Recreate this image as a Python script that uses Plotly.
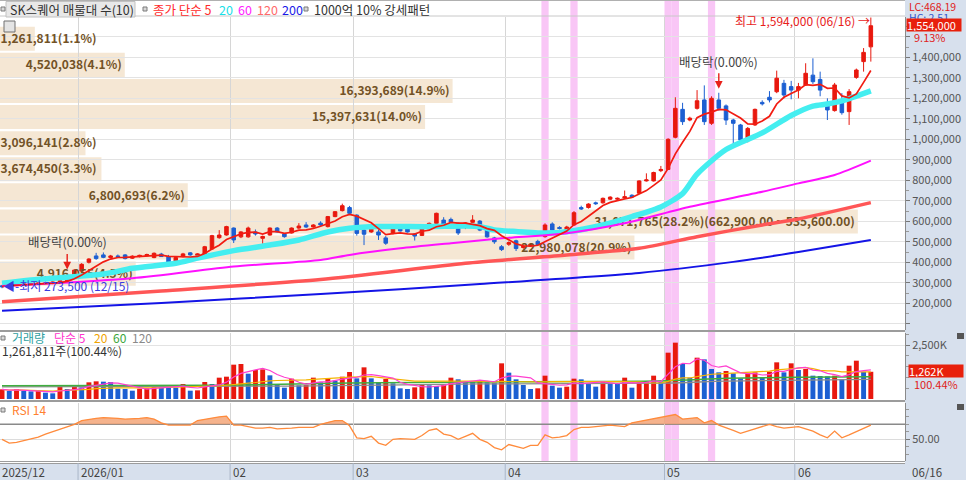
import numpy as np
import pandas as pd
import plotly.graph_objects as go

W, H = 966, 480
PLOT_R = 905
FONT = "Noto Sans CJK KR"
RED = "#e8180e"
BLUE = "#1c5fd2"

# ---------------- data (prices in thousand won, volume in thousand shares) ----------------
opens_k = [285, 282, 293, 289, 295, 292, 300, 297, 304, 310,
           328, 357, 400, 431, 436, 423, 431, 436, 420, 428,
           432, 423, 440, 428, 392, 428, 446, 434, 436, 465,
           520, 533, 567, 524, 524, 548, 517, 533, 567, 538,
           543, 567, 582, 572, 591, 574, 623, 652, 667, 630,
           557, 548, 548, 519, 541, 566, 570, 538, 531, 562,
           590, 606, 609, 590, 585, 595, 601, 557, 519, 476,
           488, 505, 472, 480, 502, 525, 587, 570, 543, 582,
           667, 667, 690, 690, 708, 708, 714, 727, 737, 797,
           797, 847, 853, 1010, 1146, 1094, 1151, 1192, 1078, 1192,
           1163, 1094, 1070, 993, 1070, 1180, 1205, 1232, 1273, 1257,
           1240, 1265, 1313, 1292, 1178, 1140, 1190, 1135, 1302, 1379,
           1451]
highs_k = [290, 296, 298, 297, 301, 303, 306, 306, 313, 345,
           366, 396, 420, 446, 448, 436, 438, 440, 434, 437,
           442, 448, 446, 436, 428, 446, 450, 444, 480, 534,
           557, 578, 570, 552, 574, 560, 530, 570, 572, 542,
           570, 591, 596, 586, 600, 626, 650, 686, 675, 634,
           574, 578, 560, 528, 570, 580, 575, 542, 569, 594,
           642, 620, 618, 594, 596, 630, 606, 562, 524, 484,
           502, 510, 482, 492, 510, 590, 595, 576, 578, 650,
           676, 688, 696, 716, 722, 716, 750, 732, 800, 834,
           842, 870, 1005, 1205, 1178, 1110, 1240, 1263, 1210, 1227,
           1170, 1100, 1075, 1060, 1150, 1190, 1235, 1335, 1290, 1285,
           1275, 1371, 1395, 1330, 1200, 1275, 1225, 1245, 1345, 1445,
           1594]
lows_k = [273.5, 280, 286, 285, 290, 290, 294, 293, 300, 306,
          325, 352, 394, 412, 420, 418, 424, 414, 416, 424,
          428, 420, 426, 378, 390, 424, 432, 430, 434, 462,
          515, 530, 494, 518, 520, 530, 490, 530, 545, 520,
          540, 563, 568, 569, 578, 570, 620, 648, 636, 530,
          484, 544, 509, 485, 536, 550, 545, 506, 528, 558,
          586, 580, 596, 533, 562, 592, 552, 520, 490, 455,
          480, 455, 466, 476, 482, 520, 552, 560, 540, 578,
          655, 662, 680, 686, 704, 700, 710, 715, 734, 794,
          794, 840, 850, 1005, 1070, 1088, 1145, 1070, 1070, 1140,
          1070, 972, 985, 985, 1065, 1165, 1180, 1225, 1200, 1195,
          1200, 1260, 1270, 1210, 1094, 1135, 1120, 1070, 1295, 1330,
          1379]
closes_k = [281, 293, 289, 295, 292, 300, 297, 304, 310, 325,
            362, 390, 416, 418, 424, 431, 428, 418, 430, 434,
            438, 444, 428, 401, 423, 441, 436, 441, 476, 530,
            533, 574, 509, 548, 567, 538, 526, 567, 548, 525,
            567, 577, 572, 582, 582, 623, 647, 676, 639, 541,
            537, 572, 533, 493, 566, 553, 548, 528, 562, 590,
            639, 585, 597, 543, 592, 606, 557, 524, 500, 462,
            496, 467, 478, 488, 486, 582, 557, 565, 572, 642,
            660, 684, 686, 712, 718, 712, 720, 718, 797, 802,
            838, 853, 1000, 1151, 1086, 1103, 1188, 1086, 1200, 1151,
            1094, 1078, 997, 1053, 1146, 1173, 1192, 1298, 1216, 1240,
            1257, 1322, 1281, 1240, 1143, 1265, 1130, 1232, 1338, 1424,
            1554]
volume_k = [448, 371, 464, 371, 355, 371, 294, 263, 572, 464,
            572, 541, 773, 819, 804, 788, 479, 464, 386, 479,
            495, 649, 572, 541, 525, 695, 386, 402, 788, 695,
            989, 1035, 1592, 1623, 1174, 1344, 1375, 1097, 695, 525,
            943, 634, 649, 989, 773, 943, 850, 1035, 1252, 958,
            1468, 958, 773, 927, 726, 495, 464, 541, 649, 634,
            603, 680, 989, 912, 804, 788, 881, 773, 757, 1654,
            1221, 912, 649, 464, 495, 1082, 618, 525, 572, 943,
            912, 726, 572, 804, 726, 711, 989, 525, 788, 834,
            1082, 804, 2148, 2612, 1623, 989, 1916, 1839, 1391, 1236,
            1298, 1190, 958, 1190, 1236, 989, 1267, 1700, 1236, 1654,
            1344, 1391, 1082, 1066, 1051, 1082, 912, 1545, 1777, 1256,
            1262]
last_volume_shares = 1261811
last_volume_ratio_pct = 100.44
rsi14 = [50, 45, 46, 48, 50, 53, 57, 60, 63, 66,
         70, 75, 77, 78, 79, 79, 78, 77, 77, 78,
         79, 77, 72, 69, 69, 69, 69, 75, 77, 79,
         80, 81, 69, 69, 67, 65, 65, 66, 64, 64,
         65, 66, 66, 66, 70, 73, 75, 75, 68, 52,
         51, 54, 45, 42, 50, 51, 50, 50, 55, 62,
         64, 57, 55, 50, 54, 58, 50, 46, 39, 36,
         43, 40, 38, 42, 42, 56, 52, 53, 55, 63,
         66, 66, 67, 68, 69, 68, 67, 72, 74, 76,
         78, 80, 82, 83, 77, 78, 79, 72, 75, 69,
         66, 62, 58, 61, 65, 67, 70, 67, 65, 66,
         67, 64, 61, 56, 52, 61, 52, 56, 60, 65,
         69]

# moving averages that need history before the visible window
ma20_idx = [0, 4, 14, 18, 24, 27, 32, 37, 41, 45, 48, 52, 59, 64, 66, 68, 71, 75, 78, 83,
            87, 91, 94, 96, 100, 105, 109, 112, 114, 116, 118, 120]
ma20_k = [298, 314, 343, 371, 395, 420, 457, 484, 509, 548, 566, 574, 574, 577, 574, 558, 550, 543, 549, 582,
          623, 670, 735, 830, 950, 1031, 1116, 1162, 1172, 1187, 1211, 1236]
ma60_idx = [0, 18, 32, 44, 48, 55, 62, 69, 78, 86, 95, 105, 110, 115, 120]
ma60_k = [284, 322, 379, 411, 436, 468, 493, 517, 542, 590, 671, 744, 785, 826, 896]
ma120_idx = [0, 22, 44, 64, 78, 88, 96, 105, 110, 120]
ma120_k = [208, 260, 316, 395, 436, 468, 525, 582, 611, 691]
ma200_idx = [0, 22, 44, 66, 88, 101, 110, 120]
ma200_k = [163, 202, 245, 294, 348, 402, 450, 509]
vol60_idx = [0, 30, 48, 66, 80, 92, 100, 110, 120]
vol60_k = [620, 640, 740, 790, 810, 850, 960, 1010, 1035]
vol120_idx = [0, 40, 66, 92, 100, 120]
vol120_k = [560, 600, 700, 740, 830, 910]

# volume profile (매물대), top bin first
profile_volumes = [1261811, 4520038, 16393689, 15397631, 3096141,
                   3674450, 6800693, 31071765, 22980078, 4916055]

month_labels = ["2025/12", "2026/01", "02", "03", "04", "05", "06"]
month_first_idx = [0, 11, 32, 49, 70, 92, 110]
strong_pattern_idx = [75, 79, 92, 93, 98]
ex_dividend_idx = [9, 99]

# ---------------- derived ----------------
n = len(closes_k)
xs = np.arange(n)
o = np.array(opens_k) * 1000
h = np.array(highs_k) * 1000
lo = np.array(lows_k) * 1000
c = np.array(closes_k) * 1000
vol = np.array(volume_k, dtype=float)
rsi = np.array(rsi14, dtype=float)
ma5 = pd.Series(c).rolling(5, min_periods=1).mean()
vma5 = pd.Series(vol).rolling(5, min_periods=1).mean()
vma20 = pd.Series(vol).rolling(20, min_periods=1).mean()
vol_colors = [RED] + [RED if vol[i] > vol[i - 1] else BLUE for i in range(1, n)]
chg_pct = (c[-1] / c[-2] - 1) * 100

PX_PER_BAR = 7.24
X0 = -0.28
XR = [X0, X0 + PLOT_R / PX_PER_BAR]
P_TOP, P_BOT = 1596600, 69700


def px_x(p):
    return p / W


def px_y(p):
    return 1 - p / H


def px_to_idx(p):
    return X0 + p / PX_PER_BAR


fig = go.Figure()

shapes = []
# background strips
shapes.append(dict(type="rect", xref="paper", yref="paper", x0=px_x(PLOT_R), x1=1, y0=0, y1=1,
                   fillcolor="#d7e0ed", line=dict(width=0), layer="below"))
shapes.append(dict(type="rect", xref="paper", yref="paper", x0=0, x1=1, y0=0, y1=px_y(463),
                   fillcolor="#d7e0ed", line=dict(width=0), layer="below"))

# --- volume profile boxes + labels ---
hi_c, lo_c = c.max(), c.min()
bin_w = (hi_c - lo_c) / len(profile_volumes)
tot = sum(profile_volumes)
prof_x, prof_y, prof_t, prof_pos = [], [], [], []
imax = int(np.argmax(profile_volumes))
for k, v in enumerate(profile_volumes):
    upper = hi_c - k * bin_w
    lower = upper - bin_w
    pct = v / tot * 100
    wpx = pct * 30.4
    shapes.append(dict(type="rect", xref="paper", yref="y", x0=0, x1=px_x(wpx),
                       y0=lower + 5000, y1=upper - 5000, fillcolor="#f5e7d4",
                       line=dict(width=0), layer="below"))
    label = f"{v:,}({pct:.1f}%)"
    if k == imax:
        label += f"({upper:,.2f} ~ {lower:,.2f})"
    tw = len(label) * 6.7
    if wpx - 3 >= tw:
        prof_x.append(px_to_idx(wpx - 3))
        prof_pos.append("middle left")
    else:
        prof_x.append(px_to_idx(0.5))
        prof_pos.append("middle right")
    prof_y.append((upper + lower) / 2 - 6000)
    prof_t.append(label)

# pink strong pattern bands
for i in strong_pattern_idx:
    shapes.append(dict(type="rect", xref="x", yref="paper", x0=i - 0.5, x1=i + 0.5,
                       y0=px_y(462), y1=1, fillcolor="#f9c6f6", line=dict(width=0), layer="below"))

fig.add_trace(go.Scatter(x=prof_x, y=prof_y, mode="text", text=prof_t, textposition=prof_pos,
                         textfont=dict(family=FONT, size=12, color="#725226", weight="bold"),
                         hoverinfo="skip", showlegend=False, xaxis="x", yaxis="y"))

fig.add_trace(go.Candlestick(x=xs, open=o, high=h, low=lo, close=c,
                             increasing=dict(line=dict(color=RED, width=1), fillcolor=RED),
                             decreasing=dict(line=dict(color=BLUE, width=1), fillcolor=BLUE),
                             whiskerwidth=0, hoverinfo="none", showlegend=False,
                             xaxis="x", yaxis="y"))


def ma_line(idx, vals, color, width, axis=("x", "y"), scale=1000):
    return go.Scatter(x=idx, y=np.array(vals) * scale, mode="lines",
                      line=dict(color=color, width=width, shape="spline", smoothing=0.7),
                      hoverinfo="skip", showlegend=False, xaxis=axis[0], yaxis=axis[1])


fig.add_trace(ma_line(ma200_idx, ma200_k, "#1414e6", 2))
fig.add_trace(ma_line(ma120_idx, ma120_k, "#ff5656", 3.5))
fig.add_trace(ma_line(ma20_idx, ma20_k, "#44eef0", 5.5))
fig.add_trace(ma_line(ma60_idx, ma60_k, "#ff10ff", 2))
fig.add_trace(go.Scatter(x=xs, y=ma5, mode="lines", line=dict(color="#f21c12", width=1.7),
                         hoverinfo="skip", showlegend=False, xaxis="x", yaxis="y"))

# --- volume panel ---
fig.add_trace(go.Bar(x=xs, y=vol, marker=dict(color=vol_colors, line=dict(width=0)), width=0.68,
                     hoverinfo="skip", showlegend=False, xaxis="x2", yaxis="y2"))
fig.add_trace(ma_line(vol120_idx, vol120_k, "#8c8c8c", 1.3, ("x2", "y2"), 1))
fig.add_trace(ma_line(vol60_idx, vol60_k, "#3fae3f", 1.5, ("x2", "y2"), 1))
fig.add_trace(go.Scatter(x=xs, y=vma20, mode="lines", line=dict(color="#f5b400", width=1.2),
                         hoverinfo="skip", showlegend=False, xaxis="x2", yaxis="y2"))
fig.add_trace(go.Scatter(x=xs, y=vma5, mode="lines", line=dict(color="#ff3fd0", width=1.2),
                         hoverinfo="skip", showlegend=False, xaxis="x2", yaxis="y2"))

# --- RSI panel ---
fig.add_trace(go.Scatter(x=xs, y=np.full(n, 70.0), mode="lines", line=dict(width=0),
                         hoverinfo="skip", showlegend=False, xaxis="x3", yaxis="y3"))
fig.add_trace(go.Scatter(x=xs, y=np.maximum(rsi, 70), mode="lines", line=dict(width=0),
                         fill="tonexty", fillcolor="rgba(242,160,112,0.8)",
                         hoverinfo="skip", showlegend=False, xaxis="x3", yaxis="y3"))
fig.add_trace(go.Scatter(x=xs, y=rsi, mode="lines", line=dict(color="#ff8b3c", width=1.3),
                         hoverinfo="skip", showlegend=False, xaxis="x3", yaxis="y3"))

# reference / separator lines
shapes.append(dict(type="line", xref="paper", yref="y3", x0=0, x1=px_x(PLOT_R), y0=70, y1=70,
                   line=dict(color="#8a8a8a", width=1.5), layer="below"))
for yy, col, wd in [(16, "#c8c8c8", 1), (331, "#9c9c9c", 2), (401, "#9c9c9c", 2),
                    (461.5, "#9c9c9c", 1.2), (463.5, "#9c9c9c", 1.2), (0.5, "#b0b0b0", 1)]:
    shapes.append(dict(type="line", xref="paper", yref="paper", x0=0, x1=px_x(PLOT_R),
                       y0=px_y(yy), y1=px_y(yy), line=dict(color=col, width=wd)))
# month ticks in bottom strip
for i in month_first_idx[1:]:
    shapes.append(dict(type="line", xref="x", yref="paper", x0=i - 0.5, x1=i - 0.5,
                       y0=0, y1=px_y(463), line=dict(color="#a9b6c8", width=1)))
# header boxes / icons
shapes.append(dict(type="rect", xref="paper", yref="paper", x0=px_x(6), x1=px_x(135),
                   y0=px_y(17), y1=px_y(1.5), fillcolor="#e8e8e8", line=dict(color="#c2c2c2", width=1)))
for xx, yy in [(1, 9), (143, 9), (304, 9), (1, 338), (1, 410)]:
    shapes.append(dict(type="rect", xref="paper", yref="paper", x0=px_x(xx), x1=px_x(xx + 4),
                       y0=px_y(yy + 2), y1=px_y(yy - 2), fillcolor="#d8d8d8",
                       line=dict(color="#7a7a7a", width=1)))
shapes.append(dict(type="rect", xref="paper", yref="paper", x0=px_x(4), x1=px_x(15),
                   y0=px_y(32), y1=px_y(21), fillcolor="#e4e4e4", line=dict(color="#707070", width=1)))
for yy in [333, 404]:
    shapes.append(dict(type="rect", xref="paper", yref="paper", x0=px_x(957), x1=px_x(964),
                       y0=px_y(yy + 6), y1=px_y(yy), fillcolor="#555555", line=dict(width=0)))


def txt(s, xp, yp, color, size=12, anchor="left", **kw):
    return dict(text=s, x=px_x(xp), y=px_y(yp), xref="paper", yref="paper", xanchor=anchor,
                yanchor="middle", showarrow=False, font=dict(family=FONT, size=size, color=color), **kw)


def redbox(s, xp, yp):
    return dict(text=s, x=px_x(xp), y=px_y(yp), xref="paper", yref="paper",
                xanchor="left", yanchor="middle", showarrow=False, bgcolor="#e8200c", borderpad=0,
                width=54, height=12, align="left", font=dict(family=FONT, size=11, color="white"))


ann = []
# header legend
ann.append(txt("SK스퀘어 매물대 수(10)", 8, 9.5, "#333333", 12.5))
ann.append(txt("종가 단순 5", 151, 9.5, "#ff2a2a", 12.5))
ann.append(txt("20", 217, 9.5, "#18e0e8", 12.5))
ann.append(txt("60", 236, 9.5, "#ff22ff", 12.5))
ann.append(txt("120", 255, 9.5, "#ff6a6a", 12.5))
ann.append(txt("200", 280, 9.5, "#1a1ae8", 12.5))
ann.append(txt("1000억 10% 강세패턴", 312, 9.5, "#333333", 12.5))
# volume legend
ann.append(txt("거래량", 10, 337.5, "#2f9f9f"))
ann.append(txt("단순 5", 52, 337.5, "#ff33cc"))
ann.append(txt("20", 92, 337.5, "#f0a400"))
ann.append(txt("60", 111, 337.5, "#3aa63a"))
ann.append(txt("120", 130, 337.5, "#8a8a8a"))
ann.append(txt(f"{last_volume_shares:,}주({last_volume_ratio_pct:.2f}%)", 0, 350.5, "#333333"))
# RSI legend
ann.append(txt("RSI 14", 10, 409.5, "#ff8030"))
# right-side labels
ann.append(txt("LC:468.19", 907, 7, "#e02020", 10.5))
ann.append(txt("HC: 2.51", 907, 17.5, "#2f55cc", 10.5))
ann.append(redbox(f"{int(c[-1]):,}", 906, 25))
ann.append(txt(f"{chg_pct:.2f}%", 912, 37, "#e02020", 11))
ann.append(redbox(f"{round(last_volume_shares / 1000):,}K", 908, 370.5))
ann.append(txt(f"{last_volume_ratio_pct:.2f}%", 912, 384, "#e02020", 11))
# x-axis labels
for lab, i in zip(month_labels, month_first_idx):
    xp = 0 if i == 0 else 2 + (i - 0.5) * PX_PER_BAR + 1
    ann.append(txt(lab, xp, 471.5, "#444444", 11.5))
ann.append(txt("06/16", 910, 471.5, "#444444", 11.5))

# main chart annotations
imax_h = int(np.argmax(h))
imin_l = int(np.argmin(lo))
ann.append(dict(text=f"최고 {int(h[imax_h]):,} (06/16) →", x=imax_h + 0.2, y=1579000, xref="x", yref="y",
                xanchor="right", yanchor="middle", showarrow=False,
                font=dict(family=FONT, size=12, color="#e8201a")))
ann.append(dict(text=f"◀-최저 {int(lo[imin_l]):,} (12/15)", x=imin_l - 0.1, y=lo[imin_l] + 12000, xref="x",
                yref="y", xanchor="left", yanchor="middle", showarrow=False,
                font=dict(family=FONT, size=12, color="#3a3ae0")))
for i in ex_dividend_idx:
    tip = h[i] + 20000
    ann.append(dict(text="", x=i, y=tip, xref="x", yref="y", showarrow=True, ax=0, ay=-17,
                    arrowhead=2, arrowsize=1.1, arrowwidth=1.4, arrowcolor="#e8201a"))
    ann.append(dict(text="배당락(0.00%)", x=i, y=tip, xref="x", yref="y", showarrow=False,
                    xanchor="center", yanchor="bottom", yshift=16,
                    font=dict(family=FONT, size=12.5, color="#444444")))

grid_x = [i - 0.5 for i in month_first_idx[1:]]
xcommon = dict(range=XR, showticklabels=False, showgrid=True, gridcolor="#d6d6d6", gridwidth=1,
               tickmode="array", tickvals=grid_x, ticks="", zeroline=False, showline=False,
               domain=[0, px_x(PLOT_R)], fixedrange=True)
ytick_font = dict(family=FONT, size=11, color="#555555")

price_ticks = list(range(100000, 1600000, 100000))
price_text = ["" if (v == 100000 or v == 1500000) else f"{v:,}" for v in price_ticks]

fig.update_layout(
    width=W, height=H, margin=dict(l=0, r=0, t=0, b=0),
    paper_bgcolor="white", plot_bgcolor="white", showlegend=False, boxgap=0.3,
    xaxis=dict(**xcommon, anchor="y", rangeslider=dict(visible=False)),
    xaxis2=dict(**xcommon, anchor="y2", matches="x"),
    xaxis3=dict(**xcommon, anchor="y3", matches="x"),
    yaxis=dict(domain=[px_y(330), px_y(17)], range=[P_BOT, P_TOP], side="right", anchor="x",
               tickmode="array", tickvals=price_ticks, ticktext=price_text, ticks="outside",
               ticklen=4, tickcolor="#777777", showline=True, linecolor="#8a8a8a",
               showgrid=True, gridcolor="#e3e3e3", zeroline=False, tickfont=ytick_font,
               minor=dict(tickvals=[v + 50000 for v in price_ticks], ticks="outside", ticklen=3,
                          tickcolor="#999999", showgrid=False),
               fixedrange=True),
    yaxis2=dict(domain=[px_y(400), px_y(333)], range=[-46, 3060], side="right", anchor="x2",
                tickmode="array", tickvals=[2500], ticktext=["2,500K"], ticks="outside", ticklen=4,
                tickcolor="#777777", showline=True, linecolor="#8a8a8a", showgrid=True,
                gridcolor="#e3e3e3", zeroline=False, tickfont=ytick_font,
                minor=dict(tickvals=[500, 1000, 1500, 2000, 3000], ticks="outside", ticklen=3,
                           tickcolor="#999999", showgrid=False),
                fixedrange=True),
    yaxis3=dict(domain=[px_y(461), px_y(403)], range=[21.1, 98.4], side="right", anchor="x3",
                tickmode="array", tickvals=[50], ticktext=["50.00"], ticks="outside", ticklen=4,
                tickcolor="#777777", showline=True, linecolor="#8a8a8a", showgrid=True,
                gridcolor="#dcdcdc", zeroline=False, tickfont=ytick_font,
                minor=dict(tickvals=[30, 40, 60, 70, 80, 90], ticks="outside", ticklen=3,
                           tickcolor="#999999", showgrid=False),
                fixedrange=True),
    shapes=shapes,
    annotations=ann,
)

fig.write_html("out.html", config={"displayModeBar": False, "staticPlot": True},
               post_script="document.body.style.margin='0';document.body.style.overflow='hidden';")
